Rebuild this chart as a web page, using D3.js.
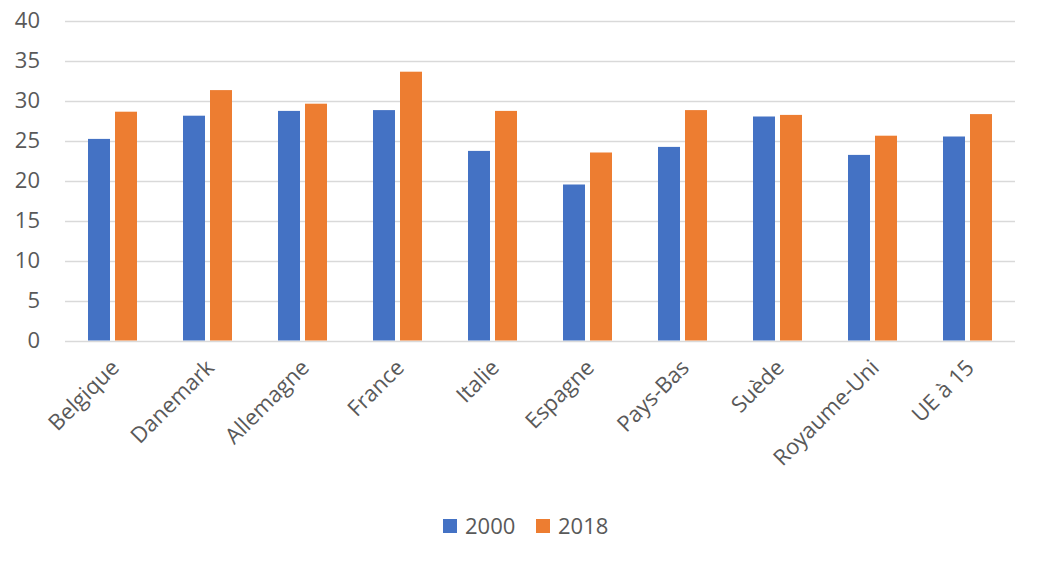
<!DOCTYPE html>
<html>
<head>
<meta charset="utf-8">
<script src="https://cdn.jsdelivr.net/npm/d3@7"></script>
<style>
  body { margin: 0; background: #fff; }
  text { font-family: "Open Sans", sans-serif; fill: #595959; }
</style>
</head>
<body>
<div class="chart"></div>
<script>
var countries = ["Belgique", "Danemark", "Allemagne", "France", "Italie", "Espagne", "Pays-Bas", "Suède", "Royaume-Uni", "UE à 15"];
var values2000 = [25.2, 28.1, 28.7, 28.8, 23.7, 19.5, 24.2, 28.0, 23.2, 25.5];
var values2018 = [28.6, 31.3, 29.6, 33.6, 28.7, 23.5, 28.8, 28.2, 25.6, 28.3];
var seriesNames = ["2000", "2018"];
var yTicks = [0, 5, 10, 15, 20, 25, 30, 35, 40];

var svgWidth = 1047;
var svgHeight = 566;
var colors = ["#4472c4", "#ed7d31"];

var svg = d3.select(".chart")
            .append("svg")
            .attr("width", svgWidth)
            .attr("height", svgHeight);

var x = d3.scaleBand()
    .domain(countries)
    .range([65, 1015]);

var y = d3.scaleLinear()
    .domain([0, 40])
    .range([340.5, 20.5]);

// gridlines
svg.selectAll("line.grid")
    .data(yTicks)
    .enter()
    .append("line")
    .attr("class", "grid")
    .attr("x1", 65)
    .attr("x2", 1015)
    .attr("y1", function(d) { return Math.round(y(d)) + 0.5; })
    .attr("y2", function(d) { return Math.round(y(d)) + 0.5; })
    .attr("stroke", "#d9d9d9")
    .attr("stroke-width", 1.5);

// y labels
svg.selectAll("text.ylab")
    .data(yTicks)
    .enter()
    .append("text")
    .attr("class", "ylab")
    .attr("x", 40)
    .attr("y", function(d) { return y(d); })
    .attr("dy", "0.35em")
    .attr("text-anchor", "end")
    .style("font-size", "22px")
    .text(function(d) { return d; });

var barW = 22;
var series = [values2000, values2018];
var offsets = [-24.5, 2.5];

series.forEach(function(vals, s) {
  svg.selectAll("rect.s" + s)
      .data(vals)
      .enter()
      .append("rect")
      .attr("class", "s" + s)
      .attr("x", function(d, i) {
        return x(countries[i]) + x.bandwidth() / 2 + offsets[s];
      })
      .attr("width", barW)
      .attr("y", function(d) { return y(d); })
      .attr("height", function(d) { return y(0) - y(d); })
      .attr("fill", colors[s]);
});

// x labels rotated
svg.selectAll("text.xlab")
    .data(countries)
    .enter()
    .append("text")
    .attr("class", "xlab")
    .attr("text-anchor", "end")
    .attr("transform", function(d) {
      return "translate(" + (x(d) + x.bandwidth() / 2 + 8) + ",369) rotate(-45)";
    })
    .style("font-size", "22px")
    .text(function(d) { return d; });

// legend
var legend = svg.selectAll("g.legend")
    .data(seriesNames)
    .enter()
    .append("g")
    .attr("class", "legend")
    .attr("transform", function(d, i) { return "translate(" + (443 + i * 93) + ",519)"; });

legend.append("rect")
    .attr("width", 14)
    .attr("height", 14)
    .attr("fill", function(d, i) { return colors[i]; });

legend.append("text")
    .attr("x", 22)
    .attr("y", 7)
    .attr("dy", "0.35em")
    .style("font-size", "22px")
    .text(function(d) { return d; });
</script>
</body>
</html>
